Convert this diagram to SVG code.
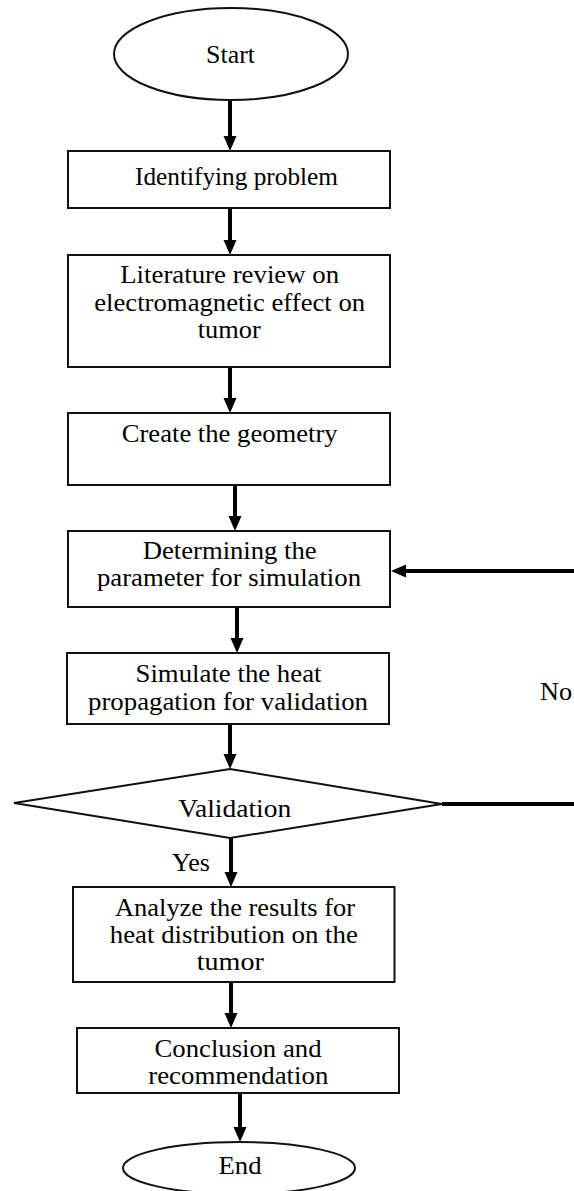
<svg xmlns="http://www.w3.org/2000/svg" width="574" height="1191" viewBox="0 0 574 1191">
<style>
.box{fill:#fff;stroke:#111;stroke-width:2}
.conn{stroke:#000;stroke-width:4;fill:none}
.t{font-family:'Liberation Serif','Times New Roman',Times,serif;font-size:25px;fill:#000;text-anchor:middle}
.l{text-anchor:start}
</style>
<defs>
<marker id="ah" markerUnits="userSpaceOnUse" markerWidth="16" markerHeight="14" refX="5" refY="6.5" orient="auto">
<path d="M0,0 L15,6.5 L0,13 z" fill="#000"/>
</marker>
</defs>
<rect width="574" height="1191" fill="#fff"/>
<g id="connectors">
<line class="conn" x1="230" y1="100" x2="230" y2="141" marker-end="url(#ah)"/>
<line class="conn" x1="230" y1="208" x2="230" y2="245" marker-end="url(#ah)"/>
<line class="conn" x1="230" y1="367" x2="230" y2="403" marker-end="url(#ah)"/>
<line class="conn" x1="235" y1="485" x2="235" y2="521" marker-end="url(#ah)"/>
<line class="conn" x1="237" y1="607" x2="237" y2="643" marker-end="url(#ah)"/>
<line class="conn" x1="230" y1="724" x2="230" y2="759" marker-end="url(#ah)"/>
<line class="conn" x1="231" y1="838" x2="231" y2="877" marker-end="url(#ah)"/>
<line class="conn" x1="231" y1="982" x2="231" y2="1018" marker-end="url(#ah)"/>
<line class="conn" x1="240" y1="1093" x2="240" y2="1132" marker-end="url(#ah)"/>
<line class="conn" x1="442" y1="804" x2="574" y2="804"/>
<line class="conn" x1="574" y1="571" x2="401" y2="571" marker-end="url(#ah)"/>
<text class="t l" x="540" y="700" textLength="32" lengthAdjust="spacingAndGlyphs">No</text>
<text class="t l" x="172" y="871" textLength="38" lengthAdjust="spacingAndGlyphs">Yes</text>
</g>
<g id="start">
<ellipse class="box" cx="231" cy="54" rx="117" ry="46"/>
<text class="t" x="230.5" y="63" textLength="49" lengthAdjust="spacingAndGlyphs">Start</text>
</g>
<g id="identify">
<rect class="box" x="68" y="151" width="322" height="57"/>
<text class="t" x="236.5" y="185" textLength="203" lengthAdjust="spacingAndGlyphs">Identifying problem</text>
</g>
<g id="literature">
<rect class="box" x="68" y="255" width="322" height="112"/>
<text class="t" x="229.7" y="283" textLength="219" lengthAdjust="spacingAndGlyphs">Literature review on</text>
<text class="t" x="229.7" y="311" textLength="271" lengthAdjust="spacingAndGlyphs">electromagnetic effect on</text>
<text class="t" x="229.3" y="338" textLength="63" lengthAdjust="spacingAndGlyphs">tumor</text>
</g>
<g id="geometry">
<rect class="box" x="68" y="413" width="322" height="72"/>
<text class="t" x="229.7" y="441.5" textLength="216" lengthAdjust="spacingAndGlyphs">Create the geometry</text>
</g>
<g id="parameter">
<rect class="box" x="68" y="531" width="322" height="76"/>
<text class="t" x="229.7" y="559" textLength="174" lengthAdjust="spacingAndGlyphs">Determining the</text>
<text class="t" x="229" y="586" textLength="264" lengthAdjust="spacingAndGlyphs">parameter for simulation</text>
</g>
<g id="simulate">
<rect class="box" x="67" y="653" width="322" height="71"/>
<text class="t" x="228.5" y="682" textLength="186" lengthAdjust="spacingAndGlyphs">Simulate the heat</text>
<text class="t" x="228" y="710" textLength="280" lengthAdjust="spacingAndGlyphs">propagation for validation</text>
</g>
<g id="validation">
<polygon class="box" points="14,803 230,769 442,804 230,838"/>
<text class="t" x="234.7" y="817" textLength="113" lengthAdjust="spacingAndGlyphs">Validation</text>
</g>
<g id="analyze">
<rect class="box" x="73" y="887" width="321.5" height="95"/>
<text class="t" x="235" y="916" textLength="240" lengthAdjust="spacingAndGlyphs">Analyze the results for</text>
<text class="t" x="233.8" y="943" textLength="248" lengthAdjust="spacingAndGlyphs">heat distribution on the</text>
<text class="t" x="230.3" y="970" textLength="67" lengthAdjust="spacingAndGlyphs">tumor</text>
</g>
<g id="conclusion">
<rect class="box" x="77" y="1028" width="322" height="65"/>
<text class="t" x="238" y="1056.5" textLength="167" lengthAdjust="spacingAndGlyphs">Conclusion and</text>
<text class="t" x="238.3" y="1084" textLength="180" lengthAdjust="spacingAndGlyphs">recommendation</text>
</g>
<g id="end">
<ellipse class="box" cx="239" cy="1168" rx="116" ry="26"/>
<text class="t" x="240" y="1174" textLength="43" lengthAdjust="spacingAndGlyphs">End</text>
</g>
</svg>
